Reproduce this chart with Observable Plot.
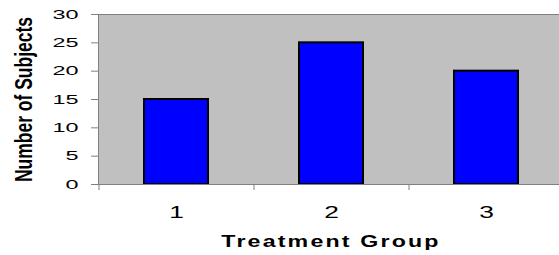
<!DOCTYPE html>
<html>
<head>
<meta charset="utf-8">
<script src="https://cdn.jsdelivr.net/npm/d3@7"></script>
<script src="https://cdn.jsdelivr.net/npm/@observablehq/plot@0.6"></script>
<style>
  html, body { margin: 0; padding: 0; background: white; }
  #chart svg { display: block; }
</style>
</head>
<body>
<div id="chart"></div>
<script>
const categories = [1, 2, 3];
const subjects = [15, 25, 20];
const yTicks = [0, 5, 10, 15, 20, 25, 30];
const xLabel = "Treatment Group";
const yLabel = "Number of Subjects";

const data = categories.map((c, i) => ({group: c, count: subjects[i]}));

const chart = Plot.plot({
  width: 559,
  height: 255,
  marginLeft: 98,
  marginRight: -4,
  marginTop: 14,
  marginBottom: 71,
  style: {fontFamily: "'Liberation Sans', Arial, sans-serif", color: "black", background: "white", overflow: "hidden"},
  x: {type: "band", domain: categories, paddingInner: 0.59, paddingOuter: 0.295, align: 0.5},
  y: {domain: [0, 30]},
  marks: [
    Plot.frame({fill: "#c0c0c0", stroke: null}),
    Plot.frame({anchor: "top", stroke: "#808080"}),
    Plot.frame({anchor: "left", stroke: "#808080"}),
    Plot.barY(data, {x: "group", y: "count", fill: "#0000ff", stroke: "black", strokeWidth: 2}),
    Plot.axisY({ticks: yTicks, tickSize: 7, tickPadding: 13, fontSize: 13, stroke: "#808080", fill: "black",
      label: yLabel, labelArrow: "none", labelAnchor: "center", labelOffset: 83}),
    Plot.axisX({tickSize: 0, tickPadding: 21, fontSize: 17, fill: "black",
      label: xLabel, labelArrow: "none", labelAnchor: "center", labelOffset: 62}),
    Plot.axisX({tickSize: 6, text: null, dx: -77.5, stroke: "#808080", label: null}),
    Plot.ruleY([0], {stroke: "#808080", insetLeft: -6})
  ]
});

document.getElementById("chart").appendChild(chart);

const svg = d3.select(chart.tagName.toLowerCase() === "svg" ? chart : chart.querySelector("svg"));
function stretch(sel, sx, sy) {
  sel.each(function() {
    const t = this.getAttribute("transform") || "";
    this.setAttribute("transform", `${t} scale(${sx},${sy})`);
  });
}
stretch(svg.selectAll('g[aria-label="y-axis tick label"] text'), 1.8, 1);
stretch(svg.selectAll('g[aria-label="x-axis tick label"] text'), 1.55, 1);
const xl = svg.selectAll('g[aria-label="x-axis label"] text')
  .attr("font-size", 16).attr("font-weight", "bold").style("letter-spacing", "1.5px");
stretch(xl, 1.45, 1);
const yl = svg.selectAll('g[aria-label="y-axis label"] text')
  .attr("font-size", 17.5).attr("font-weight", "bold");
stretch(yl, 1, 1.36);
</script>
</body>
</html>
